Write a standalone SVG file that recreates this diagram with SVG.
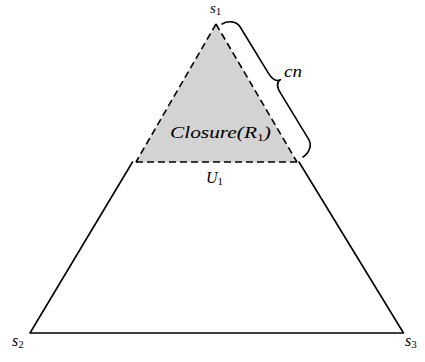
<svg xmlns="http://www.w3.org/2000/svg" width="425" height="362" viewBox="0 0 425 362">
<style>
.solid{fill:none;stroke:#000;stroke-width:1.6;stroke-linecap:round;stroke-linejoin:round}
.dash{fill:none;stroke:#000;stroke-width:1.6;stroke-dasharray:7 4}
.lbl{font-family:"Liberation Serif","Times New Roman",serif;font-style:italic;fill:#000}
.sub{font-style:normal;font-size:11px}
</style>
<rect width="425" height="362" fill="#fff"/>
<g id="closure">
<polygon points="216,24 136,162 297,162" fill="#d3d3d3" stroke="none"/>
<text class="lbl" x="170" y="138" font-size="17" textLength="101" lengthAdjust="spacingAndGlyphs">Closure(R<tspan class="sub" dy="3">1</tspan><tspan dy="-3">)</tspan></text>
</g>
<g id="connectors">
<path class="dash" d="M216,24 L136,162"/>
<path class="dash" d="M216,24 L297,162"/>
<path class="dash" d="M136,162 L297,162"/>
<path class="solid" d="M132.5,162 L30,333 L403.5,333 L299,162"/>
<path class="solid" transform="translate(222,24) rotate(58.65)" d="M0,0 C0,-7 5,-14 12,-14 L65.85,-14 C72.85,-14 77.85,-16 77.85,-21 C77.85,-16 82.85,-14 89.85,-14 L143.7,-14 C150.7,-14 155.7,-7 155.7,0"/>
</g>
<g id="s1"><text class="lbl" x="210" y="13" font-size="15">s<tspan class="sub" dy="2">1</tspan></text></g>
<g id="s2"><text class="lbl" x="12" y="346" font-size="16">s<tspan class="sub" dy="2">2</tspan></text></g>
<g id="s3"><text class="lbl" x="405" y="346" font-size="16">s<tspan class="sub" dy="2">3</tspan></text></g>
<g id="u1"><text class="lbl" x="206" y="183" font-size="16">U<tspan class="sub" dy="2">1</tspan></text></g>
<g id="cn"><text class="lbl" x="284" y="77" font-size="17" textLength="18" lengthAdjust="spacingAndGlyphs">cn</text></g>
</svg>
